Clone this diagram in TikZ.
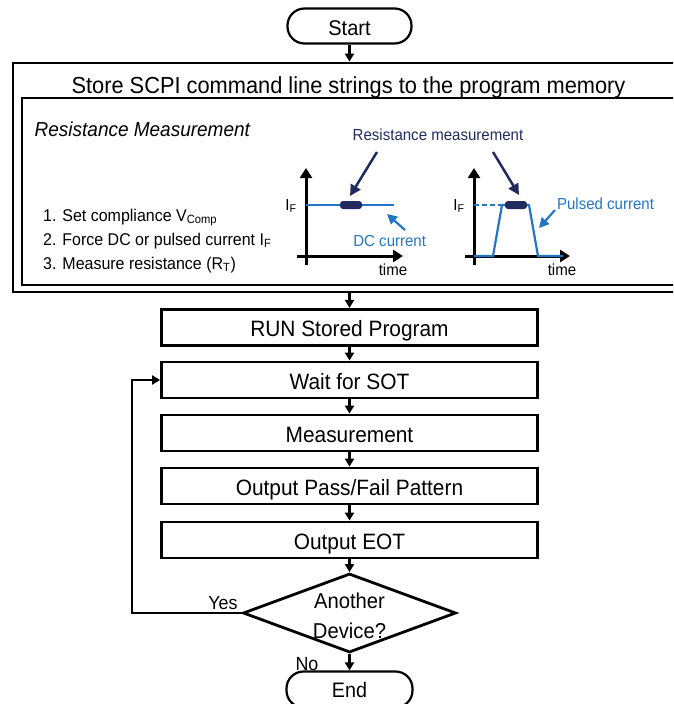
\documentclass[tikz,border=0pt]{standalone}
\usepackage{fontspec}
\setmainfont{Liberation Sans}[FakeStretch=0.94]
\usetikzlibrary{arrows.meta,shapes.geometric,calc}
\definecolor{navy}{RGB}{33,43,94}
\definecolor{cblue}{RGB}{34,118,196}
\begin{document}
\begin{tikzpicture}[x=1pt,y=-1pt,
  flowbox/.style={draw,line width=2.8pt,minimum width=376pt,minimum height=36pt,inner sep=0pt,text height=19.3pt,text depth=0pt,font=\fontsize{22.2}{24}\selectfont},
  pill/.style={draw,line width=2.2pt,rounded corners=17pt,minimum height=35pt,inner sep=0pt,text depth=0pt},
  arr/.style={line width=2.2pt,-{Triangle[width=9pt,length=8pt]}},
  axisarr/.style={line width=3pt,-{Triangle[width=12pt,length=10pt]}},
  navyarr/.style={navy,line width=2.5pt,-{Triangle[width=11pt,length=11pt]}},
  bluearr/.style={cblue,line width=2.2pt,-{Triangle[width=10pt,length=10pt]}},
  smalltxt/.style={font=\fontsize{16}{18}\selectfont,inner sep=0pt,anchor=base},
  bluetxt/.style={smalltxt,text=cblue},
  itemtxt/.style={font=\fontsize{17}{19}\selectfont,inner sep=0pt,anchor=base west},
  bigtxt/.style={font=\fontsize{22.2}{24}\selectfont,inner sep=0pt,anchor=base},
  ynlab/.style={font=\fontsize{19}{20}\selectfont,inner sep=0pt,anchor=base},
  blob/.style={fill=navy,rounded corners=3pt}]
\useasboundingbox (0,0) rectangle (673,704);
\clip (0,0) rectangle (673,704);

% start
\node[pill,minimum width=124pt,text height=18pt,font=\fontsize{21.3}{24}\selectfont] (start) at (349.5,26) {Start};

% outer and inner boxes
\node[draw,line width=2.8pt,minimum width=677pt,minimum height=229pt,inner sep=0pt] (outer) at (351.5,177.5) {};
\node[draw,line width=2pt,minimum width=663pt,minimum height=187pt,inner sep=0pt] (inner) at (353.5,191.5) {};
\node[font=\fontsize{23.2}{26}\selectfont,inner sep=0pt,anchor=base] (title) at (348.5,93.3) {Store SCPI command line strings to the program memory};
\node[font=\itshape\fontsize{20.2}{22}\selectfont,inner sep=0pt,anchor=base west] (rmtitle) at (34.5,136.5) {Resistance Measurement};

\node[itemtxt] (l1) at (43,221) {1. Set compliance V\textsubscript{Comp}};
\node[itemtxt] (l2) at (43,245) {2. Force DC or pulsed current I\textsubscript{F}};
\node[itemtxt] (l3) at (43,269) {3. Measure resistance (R\textsubscript{T})};

% graph 1 (DC)
\draw[axisarr] (306,265) -- (306,168);
\draw[axisarr] (297,256) -- (403,256);
\draw[cblue,line width=2.2pt] (306,205) -- (394,205);
\fill[blob] (340,201) rectangle (362,209);
\node[smalltxt] (if1) at (291,210) {I\textsubscript{F}};
\node[smalltxt] (time1) at (393,275) {time};
\node[bluetxt] (dclab) at (389.7,246) {DC current};
\coordinate (dctail) at (405,230);
\coordinate (dchead) at (387,214);
\draw[bluearr] (dctail) -- (dchead);

% graph 2 (pulsed)
\draw[axisarr] (474,265) -- (474,168);
\draw[axisarr] (465,256) -- (570,256);
\draw[cblue,line width=2pt,dash pattern=on 5pt off 3pt] (474,205) -- (502,205);
\draw[cblue,line width=2.2pt] (474,256) -- (493,256) -- (502,205) -- (529,205) -- (538,256) -- (563,256);
\fill[blob] (505,201) rectangle (527,209);
\node[smalltxt] (if2) at (459,210) {I\textsubscript{F}};
\node[smalltxt] (time2) at (562,275) {time};
\node[bluetxt] (pclab) at (605.5,209.3) {Pulsed current};
\coordinate (pctail) at (555,210);
\coordinate (pchead) at (539,228);
\draw[bluearr] (pctail) -- (pchead);

% resistance measurement label and arrows
\node[smalltxt,text=navy] (rmlab) at (438,140) {Resistance measurement};
\coordinate (ra1) at (377,152);
\coordinate (rh1) at (350,196);
\coordinate (ra2) at (493,152);
\coordinate (rh2) at (519,195);
\draw[navyarr] (ra1) -- (rh1);
\draw[navyarr] (ra2) -- (rh2);

% flow boxes
\node[flowbox] (b1) at (349.5,327.3) {RUN Stored Program};
\node[flowbox] (b2) at (349.5,380) {Wait for SOT};
\node[flowbox] (b3) at (349.5,433) {Measurement};
\node[flowbox] (b4) at (349.5,486) {Output Pass/Fail Pattern};
\node[flowbox] (b5) at (349.5,540) {Output EOT};
\node[draw,diamond,line width=2.8pt,minimum width=213pt,minimum height=79pt,inner sep=0pt] (dia) at (349.5,613) {};
\node[bigtxt,font=\fontsize{21.5}{24}\selectfont] (diatxt1) at (349.5,608) {Another};
\node[bigtxt,font=\fontsize{21.5}{24}\selectfont] (diatxt2) at (349.5,638) {Device?};
\node[pill,minimum width=126pt,minimum height=36pt,text height=15.2pt,font=\fontsize{21}{24}\selectfont] (endn) at (349.5,689.5) {End};

\node[ynlab] (yes) at (223,609.3) {Yes};
\node[ynlab] (no) at (307,670.7) {No};

% connectors
\draw[arr] (start.south) -- (start |- outer.north);
\draw[arr] (outer.south -| b1.north) -- (b1.north);
\draw[arr] (b1) -- (b2);
\draw[arr] (b2) -- (b3);
\draw[arr] (b3) -- (b4);
\draw[arr] (b4) -- (b5);
\draw[arr] (b5) -- (dia.north);
\draw[arr] (dia.south) -- (endn.north);
\coordinate (loopc) at (132,380);
\draw[arr] (dia.west) -| (loopc) |- (b2.west);
\end{tikzpicture}
\end{document}
